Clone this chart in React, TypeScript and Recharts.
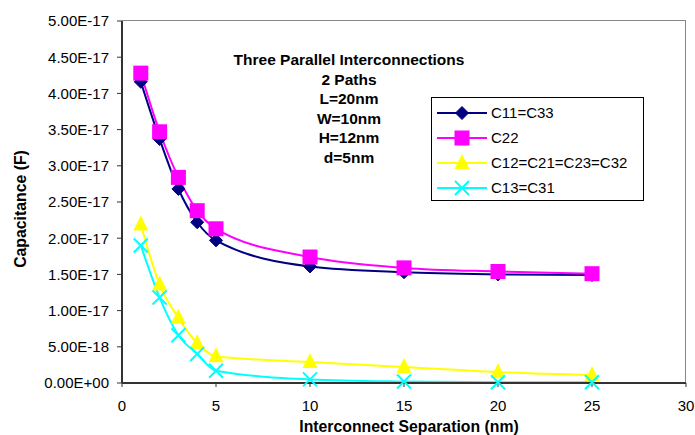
import { LineChart, Line, XAxis, YAxis } from 'recharts'

// capacitance values in units of 1e-17 F
const separation = [1, 2, 3, 4, 5, 10, 15, 20, 25]
const c11 = [4.16, 3.37, 2.68, 2.22, 1.97, 1.61, 1.53, 1.5, 1.49]
const c22 = [4.28, 3.47, 2.84, 2.38, 2.13, 1.74, 1.59, 1.54, 1.51]
const c12 = [2.19, 1.36, 0.9, 0.55, 0.37, 0.29, 0.22, 0.15, 0.11]
const c13 = [1.9, 1.18, 0.66, 0.4, 0.17, 0.05, 0.02, 0.01, 0.01]
const xTicks = [0, 5, 10, 15, 20, 25, 30]
const yTicks = [0, 0.5, 1, 1.5, 2, 2.5, 3, 3.5, 4, 4.5, 5]
const titleLines = ['Three Parallel Interconnections', '2 Paths', 'L=20nm', 'W=10nm', 'H=12nm', 'd=5nm']

const data = separation.map((s, i) => ({ s, c11: c11[i], c22: c22[i], c12: c12[i], c13: c13[i] }))

const FONT = '"Liberation Sans", Arial, sans-serif'

const fmtY = (v: number) => {
  if (v === 0) return '0.00E+00'
  return (v * 1e-17).toExponential(2).toUpperCase()
}

const marker = (kind: string, color: string, cx: number, cy: number, key?: any) => {
  if (kind === 'diamond')
    return <path key={key} d={`M${cx},${cy - 6.5}L${cx + 6.5},${cy}L${cx},${cy + 6.5}L${cx - 6.5},${cy}Z`} fill={color} stroke={color} />
  if (kind === 'square')
    return <rect key={key} x={cx - 7.5} y={cy - 7.5} width={15} height={15} fill={color} />
  if (kind === 'triangle')
    return <path key={key} d={`M${cx},${cy - 9}L${cx + 7.5},${cy + 6}L${cx - 7.5},${cy + 6}Z`} fill={color} />
  return (
    <path key={key} d={`M${cx - 7},${cy - 7}L${cx + 7},${cy + 7}M${cx + 7},${cy - 7}L${cx - 7},${cy + 7}`} stroke={color} strokeWidth={2} />
  )
}

const series = [
  { key: 'c11', name: 'C11=C33', color: '#000080', kind: 'diamond' },
  { key: 'c22', name: 'C22', color: '#FF00FF', kind: 'square' },
  { key: 'c12', name: 'C12=C21=C23=C32', color: '#FFFF00', kind: 'triangle' },
  { key: 'c13', name: 'C13=C31', color: '#00FFFF', kind: 'x' },
]

const tickStyle = { fill: '#000', fontFamily: FONT, fontSize: 15 }

export default function App() {
  return (
    <div style={{ position: 'absolute', left: 0, top: 0, width: 695, height: 435, background: '#fff' }}>
      {/* plot area frame (top / right) */}
      <div style={{ position: 'absolute', left: 122, top: 20, width: 563, height: 363, borderTop: '1px solid #888', borderRight: '1px solid #888' }} />
      <LineChart width={695} height={435} data={data} margin={{ top: 21, right: 9, bottom: 22, left: 0 }}>
        <XAxis
          dataKey="s"
          type="number"
          domain={[0, 30]}
          ticks={xTicks}
          axisLine={{ stroke: '#333', strokeWidth: 2 }}
          tickLine={{ stroke: '#333' }}
          tickSize={4}
          tickMargin={13}
          tick={tickStyle}
        />
        <YAxis
          type="number"
          domain={[0, 5]}
          ticks={yTicks}
          width={122}
          axisLine={{ stroke: '#333', strokeWidth: 2 }}
          tickLine={{ stroke: '#333' }}
          tickSize={5}
          tickMargin={8}
          tickFormatter={fmtY}
          tick={tickStyle}
        />
        {series.map((s) => (
          <Line
            key={s.key}
            dataKey={s.key}
            name={s.name}
            type="monotone"
            stroke={s.color}
            strokeWidth={2}
            isAnimationActive={false}
            dot={(p: any) => marker(s.kind, s.color, p.cx, p.cy, p.index)}
          />
        ))}
      </LineChart>
      <div style={{ position: 'absolute', left: 21, top: 209, width: 0, height: 0 }}>
        <div style={{ position: 'absolute', left: -100, top: -10, width: 200, lineHeight: '20px', textAlign: 'center', transform: 'rotate(-90deg)', fontFamily: FONT, fontSize: 15.8, fontWeight: 'bold', color: '#000', whiteSpace: 'nowrap' }}>
          Capacitance (F)
        </div>
      </div>
      <div style={{ position: 'absolute', left: 259, top: 417, width: 300, lineHeight: '20px', textAlign: 'center', fontFamily: FONT, fontSize: 15.8, fontWeight: 'bold', color: '#000', whiteSpace: 'nowrap' }}>
        Interconnect Separation (nm)
      </div>
      <div style={{ position: 'absolute', left: 199, top: 50, width: 300, textAlign: 'center', fontFamily: FONT, fontSize: 15.5, fontWeight: 'bold', lineHeight: '19.6px', color: '#000' }}>
        {titleLines.map((t) => (
          <div key={t}>{t}</div>
        ))}
      </div>
      <div style={{ position: 'absolute', left: 431, top: 97, border: '1px solid #000', background: '#fff', width: 213, height: 104, boxSizing: 'border-box', paddingTop: 2 }}>
        {series.map((s) => (
          <div key={s.key} style={{ display: 'flex', alignItems: 'center', height: 25, fontFamily: FONT, fontSize: 15, color: '#000', whiteSpace: 'nowrap' }}>
            <svg width={59} height={20} style={{ flex: 'none' }}>
              <line x1={5} y1={10} x2={55} y2={10} stroke={s.color} strokeWidth={2} />
              {marker(s.kind, s.color, 30, 10)}
            </svg>
            <span>{s.name}</span>
          </div>
        ))}
      </div>
    </div>
  )
}
